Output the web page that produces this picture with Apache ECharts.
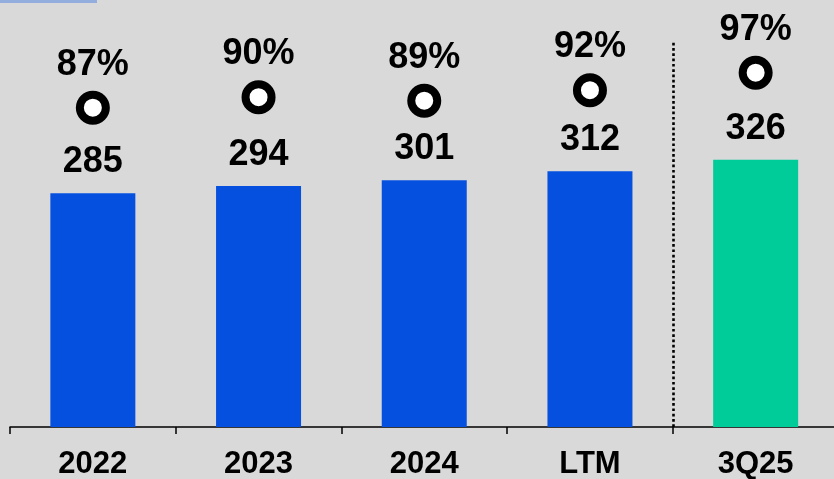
<!DOCTYPE html>
<html>
<head>
<meta charset="utf-8">
<script src="https://cdn.jsdelivr.net/npm/echarts@6/dist/echarts.min.js"></script>
<style>
  html, body { margin: 0; padding: 0; background: #d9d9d9; }
  #chart { width: 834px; height: 479px; }
</style>
</head>
<body>
<div id="chart"></div>
<script>
// chart values
const categories = ['2022', '2023', '2024', 'LTM', '3Q25'];
const barValues = [285, 294, 301, 312, 326];
const pctValues = [87, 90, 89, 92, 97];
// divider sits between LTM and the latest quarter
const dividerAt = 4;

const FONT = "'Liberation Sans', Arial, sans-serif";
const BLUE = '#0650e0';
const GREEN = '#00cc99';

let chart = echarts.init(document.getElementById('chart'));

let chart_options = {
  animation: false,
  backgroundColor: '#d9d9d9',
  graphic: [{
    type: 'rect',
    left: 0, top: 0,
    shape: {width: 97, height: 3},
    style: {fill: '#93addf'}
  }],
  grid: {left: 10, width: 828.5, top: 40, height: 387, outerBoundsMode: 'none', containLabel: false},
  xAxis: [{
    type: 'category',
    data: categories,
    boundaryGap: true,
    axisLine: {lineStyle: {color: '#000', width: 1.5}},
    axisTick: {show: true, length: 7, lineStyle: {color: '#000', width: 1.5}},
    axisLabel: {
      color: '#000', fontSize: 31, fontWeight: 'bold', fontFamily: FONT, margin: 22
    },
    splitLine: {show: false}
  }, {
    // hidden helper axis for the divider line
    type: 'value',
    min: 0,
    max: categories.length,
    show: false,
    splitLine: {show: false}
  }],
  yAxis: [{
    type: 'value',
    min: 0,
    max: 471.95,
    show: false,
    splitLine: {show: false}
  }, {
    type: 'value',
    min: -4.23,
    max: 106.34,
    show: false,
    splitLine: {show: false}
  }],
  series: [{
    type: 'bar',
    data: barValues,
    barWidth: 85,
    itemStyle: {
      color: function (p) {
        return p.dataIndex === categories.length - 1 ? GREEN : BLUE;
      }
    },
    label: {
      show: true,
      position: 'top',
      distance: 13,
      color: '#000',
      fontSize: 36,
      fontWeight: 'bold',
      fontFamily: FONT
    }
  }, {
    type: 'scatter',
    yAxisIndex: 1,
    data: pctValues,
    symbol: 'circle',
    symbolSize: 26,
    itemStyle: {color: '#fff', borderColor: '#000', borderWidth: 8, opacity: 1},
    label: {
      show: true,
      position: 'top',
      distance: 8,
      formatter: '{c}%',
      color: '#000',
      fontSize: 36,
      fontWeight: 'bold',
      fontFamily: FONT
    },
    z: 5
  }, {
    type: 'line',
    xAxisIndex: 1,
    data: [],
    silent: true,
    markLine: {
      silent: true,
      symbol: 'none',
      label: {show: false},
      lineStyle: {color: '#000', width: 2.6, type: [2.7, 2.6]},
      data: [{xAxis: dividerAt}]
    }
  }]
};

chart.setOption(chart_options);
</script>
</body>
</html>
